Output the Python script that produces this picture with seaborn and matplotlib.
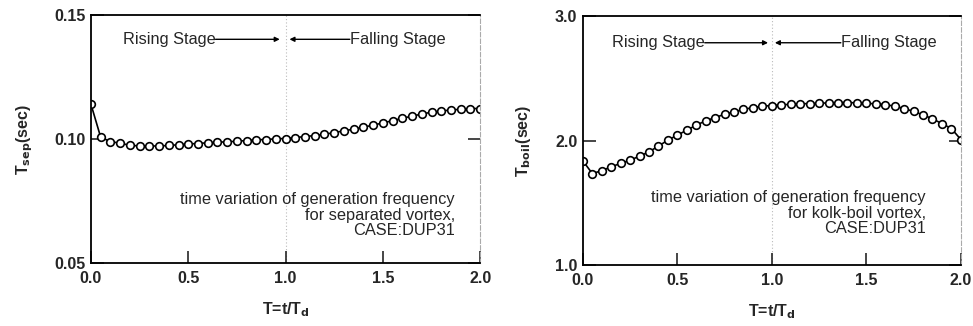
import numpy as np
import pandas as pd
import matplotlib
matplotlib.use("Agg")
import matplotlib.pyplot as plt
import seaborn as sns

# ---- data ----
t_values = [0.00, 0.05, 0.10, 0.15, 0.20, 0.25, 0.30, 0.35, 0.40, 0.45,
            0.50, 0.55, 0.60, 0.65, 0.70, 0.75, 0.80, 0.85, 0.90, 0.95,
            1.00, 1.05, 1.10, 1.15, 1.20, 1.25, 1.30, 1.35, 1.40, 1.45,
            1.50, 1.55, 1.60, 1.65, 1.70, 1.75, 1.80, 1.85, 1.90, 1.95, 2.00]

t_sep = [0.1140, 0.1007, 0.0990, 0.0983, 0.0975, 0.0972, 0.0972, 0.0972, 0.0974, 0.0977,
         0.0980, 0.0982, 0.0985, 0.0987, 0.0989, 0.0991, 0.0994, 0.0997, 0.0998, 0.1001,
         0.1002, 0.1006, 0.1010, 0.1014, 0.1019, 0.1026, 0.1033, 0.1040, 0.1048, 0.1056,
         0.1065, 0.1074, 0.1084, 0.1092, 0.1101, 0.1108, 0.1113, 0.1117, 0.1120, 0.1123, 0.1123]

t_boil = [1.837, 1.735, 1.757, 1.789, 1.816, 1.842, 1.874, 1.909, 1.955, 2.003,
          2.043, 2.083, 2.123, 2.158, 2.184, 2.211, 2.230, 2.249, 2.265, 2.275,
          2.281, 2.286, 2.291, 2.294, 2.297, 2.299, 2.302, 2.305, 2.305, 2.302,
          2.299, 2.294, 2.289, 2.275, 2.257, 2.233, 2.206, 2.174, 2.136, 2.096, 2.008]

x_ticks = [0.0, 0.5, 1.0, 1.5, 2.0]
x_ticklabels = ["0.0", "0.5", "1.0", "1.5", "2.0"]
sep_ticks = [0.05, 0.10, 0.15]
sep_ticklabels = ["0.05", "0.10", "0.15"]
boil_ticks = [1.0, 2.0, 3.0]
boil_ticklabels = ["1.0", "2.0", "3.0"]

sep_note = "time variation of generation frequency\nfor separated vortex,\nCASE:DUP31"
boil_note = "time variation of generation frequency\nfor kolk-boil vortex,\nCASE:DUP31"

# ---- style ----
sns.set_style("ticks")
plt.rcParams["font.family"] = ["Liberation Sans", "DejaVu Sans"]

fig = plt.figure(figsize=(9.73, 3.26), dpi=100)
ax1 = fig.add_axes([0.0935, 0.193, 0.400, 0.761])
ax2 = fig.add_axes([0.599, 0.187, 0.3885, 0.764])

df_sep = pd.DataFrame({"T": t_values, "v": t_sep})
df_boil = pd.DataFrame({"T": t_values, "v": t_boil})


def draw(ax, df, ylim, yticks, yticklabels, ylabel, ytext, arr, note, note_x, note_y, lab_pad):
    ax.axvline(1.0, color="#bbbbbb", lw=0.8, ls=(0, (1, 2)), zorder=0)
    sns.lineplot(data=df, x="T", y="v", ax=ax, color="black", lw=1.2,
                 marker="o", markersize=5.5, markerfacecolor="white",
                 markeredgecolor="black", markeredgewidth=1.2)
    ax.set_xlim(0, 2.0)
    ax.set_ylim(*ylim)
    ax.set_xticks(x_ticks)
    ax.set_xticklabels(x_ticklabels, fontsize=11.5, fontweight="bold")
    ax.set_yticks(yticks)
    ax.set_yticklabels(yticklabels, fontsize=11.5, fontweight="bold")
    ax.tick_params(direction="in", length=9, width=1.2, right=True, top=False, pad=4)
    ax.tick_params(axis="x", pad=6)
    for s in ["left", "bottom", "top"]:
        ax.spines[s].set_linewidth(1.3)
        ax.spines[s].set_color("black")
    ax.spines["right"].set_color("#aaaaaa")
    ax.spines["right"].set_linewidth(0.8)
    ax.spines["right"].set_linestyle((0, (4, 2)))
    ax.set_xlabel(r"T=t/T$_\mathbf{d}$", fontsize=11.5, fontweight="bold", labelpad=10)
    ax.set_ylabel(ylabel, fontsize=11.5, fontweight="bold", labelpad=lab_pad)
    # stage annotations
    a0, a1, b0, b1 = arr
    ax.text(a0, ytext, "Rising Stage", ha="right", va="center", fontsize=11.8)
    ax.annotate("", xy=(a1, ytext), xytext=(a0, ytext),
                arrowprops=dict(arrowstyle="-|>", color="black", lw=1.0, mutation_scale=7,
                                shrinkA=0, shrinkB=0))
    ax.annotate("", xy=(b0, ytext), xytext=(b1, ytext),
                arrowprops=dict(arrowstyle="-|>", color="black", lw=1.0, mutation_scale=7,
                                shrinkA=0, shrinkB=0))
    ax.text(b1, ytext, "Falling Stage", ha="left", va="center", fontsize=11.8)
    ax.text(note_x, note_y, note, ha="right", va="top", fontsize=11.8, linespacing=1.02)


draw(ax1, df_sep, (0.05, 0.15), sep_ticks, sep_ticklabels,
     r"T$_\mathbf{sep}$(sec)", 0.1402, (0.64, 0.97, 1.02, 1.33),
     sep_note, 1.87, 0.0785, 14)
draw(ax2, df_boil, (1.0, 3.0), boil_ticks, boil_ticklabels,
     r"T$_\mathbf{boil}$(sec)", 2.785, (0.645, 0.98, 1.016, 1.365),
     boil_note, 1.815, 1.60, 16)

fig.savefig("out.png", dpi=100)
